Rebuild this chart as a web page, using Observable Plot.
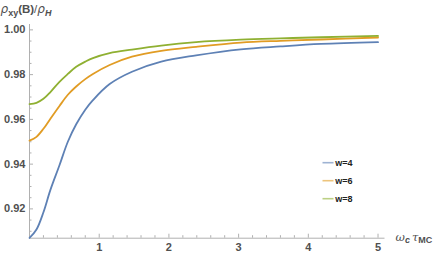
<!DOCTYPE html>
<html>
<head>
<meta charset="utf-8">
<script src="https://cdn.jsdelivr.net/npm/d3@7"></script>
<script src="https://cdn.jsdelivr.net/npm/@observablehq/plot@0.6"></script>
<style>
  html, body { margin: 0; padding: 0; background: #fff; }
  #wrap { position: relative; width: 436px; height: 258px; }
</style>
</head>
<body>
<div id="wrap"></div>
<script>
// x values (ω_c τ_MC) at which the curves were read
const xs = [0, 0.1, 0.2, 0.3, 0.43, 0.55, 0.67, 0.8, 0.91, 1.15, 1.47, 1.89, 2.39, 3.03, 3.6, 4.18, 5];
// series values ρxy(B)/ρH
const w4 = [0.9070, 0.9108, 0.9185, 0.9285, 0.9395, 0.9500, 0.9578, 0.9643, 0.9686, 0.9758, 0.9813, 0.9858, 0.9886, 0.9913, 0.9926, 0.9937, 0.9945];
const w6 = [0.9505, 0.9522, 0.9558, 0.9603, 0.9660, 0.9710, 0.9747, 0.9780, 0.9803, 0.9843, 0.9880, 0.9906, 0.9924, 0.9943, 0.9951, 0.9957, 0.9966];
const w8 = [0.9668, 0.9674, 0.9692, 0.9722, 0.9768, 0.9803, 0.9835, 0.9858, 0.9874, 0.9896, 0.9912, 0.9930, 0.9945, 0.9956, 0.9962, 0.9967, 0.9973];
const seriesNames = ["w=4", "w=6", "w=8"];
const seriesColors = ["#5E81B5", "#E19C24", "#8FB032"];
const xTicks = [1, 2, 3, 4, 5];
const xMinor = [0.2, 0.4, 0.6, 0.8, 1.2, 1.4, 1.6, 1.8, 2.2, 2.4, 2.6, 2.8, 3.2, 3.4, 3.6, 3.8, 4.2, 4.4, 4.6, 4.8];
const yTicks = [0.92, 0.94, 0.96, 0.98, 1.00];
const yMinor = [0.91, 0.915, 0.925, 0.93, 0.935, 0.945, 0.95, 0.955, 0.965, 0.97, 0.975, 0.985, 0.99, 0.995];
const xDomain = [0, 5.1];
const yDomain = [0.9069, 1.0024];

const seriesValues = [w4, w6, w8];
const data = seriesNames.flatMap((name, s) => xs.map((x, i) => ({series: name, x, y: seriesValues[s][i]})));

const axisColor = "#b0b0b0";
const labelColor = "#505050";
const font = "'Liberation Sans', Arial, sans-serif";

const chart = Plot.plot({
  width: 436,
  height: 258,
  marginLeft: 29,
  marginRight: 51.5,
  marginTop: 24,
  marginBottom: 20.3,
  style: {fontFamily: font, background: "#fff"},
  x: {domain: xDomain},
  y: {domain: yDomain},
  color: {domain: seriesNames, range: seriesColors},
  marks: [
    Plot.ruleX([xDomain[0]], {stroke: axisColor, strokeWidth: 1}),
    Plot.ruleY([yDomain[0]], {stroke: axisColor, strokeWidth: 1}),
    Plot.axisX(xMinor, {tickSize: -2.5, stroke: axisColor, tickFormat: () => "", label: null}),
    Plot.axisY(yMinor, {tickSize: -2.5, stroke: axisColor, tickFormat: () => "", label: null}),
    Plot.axisX(xTicks, {tickSize: -4, tickPadding: 8.5, stroke: axisColor, fill: labelColor, fontSize: 11, tickFormat: d3.format("d"), label: null}),
    Plot.axisY(yTicks, {tickSize: -4, tickPadding: 8, stroke: axisColor, fill: labelColor, fontSize: 11, tickFormat: d3.format(".2f"), label: null}),
    Plot.line(data, {x: "x", y: "y", stroke: "series", strokeWidth: 1.8, curve: "catmull-rom"}),
    Plot.text(["ylabel"], {frameAnchor: "top-left", dx: -29, dy: -12, textAnchor: "start", lineAnchor: "bottom", className: "ylab", fill: labelColor}),
    Plot.text(["xlabel"], {frameAnchor: "bottom-right", dx: 10.5, dy: 2.5, textAnchor: "start", lineAnchor: "bottom", className: "xlab", fill: labelColor})
  ]
});

const svg = d3.select(chart);
svg.selectAll('g[aria-label="x-axis tick label"], g[aria-label="y-axis tick label"]').attr("font-weight", "bold");
svg.select("g.ylab text").html(
  '<tspan font-style="italic" font-size="12" font-family="DejaVu Sans">ρ</tspan>' +
  '<tspan font-weight="bold" font-size="9" dy="3">xy</tspan>' +
  '<tspan dy="-3" font-weight="bold" font-size="11.5">(B)</tspan>' +
  '<tspan font-size="11.5">/</tspan>' +
  '<tspan font-style="italic" font-size="12" font-family="DejaVu Sans">ρ</tspan>' +
  '<tspan font-style="italic" font-weight="bold" font-size="9" dy="3">H</tspan>'
);
svg.select("g.xlab text").html(
  '<tspan font-style="italic" font-size="11.5" font-family="DejaVu Serif">ω</tspan>' +
  '<tspan font-style="italic" font-weight="bold" font-size="9" dy="2.5">c</tspan>' +
  '<tspan dy="-2.5" dx="2" font-style="italic" font-size="11.5" font-family="DejaVu Serif">τ</tspan>' +
  '<tspan font-weight="bold" font-size="9" dy="2.5">MC</tspan>'
);

// legend, drawn into the SVG
const lg = svg.append("g").attr("transform", "translate(322.5,162.7)")
  .attr("font-family", font).attr("font-size", 9).attr("font-weight", "bold");
seriesNames.forEach((name, i) => {
  const row = lg.append("g").attr("transform", `translate(0,${i * 18})`);
  row.append("line").attr("x1", 0).attr("x2", 11).attr("y1", 0).attr("y2", 0)
    .attr("stroke", seriesColors[i]).attr("stroke-width", 1.6).attr("stroke-opacity", 0.6);
  row.append("text").attr("x", 21.5).attr("y", 0).attr("dy", "0.34em").attr("fill", "#222").text(name);
});

document.getElementById("wrap").appendChild(chart);
</script>
</body>
</html>
